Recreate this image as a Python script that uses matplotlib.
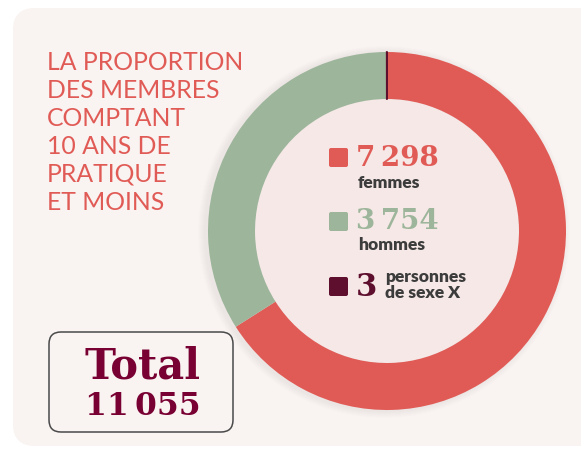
import matplotlib
matplotlib.use("Agg")
import matplotlib.pyplot as plt
from matplotlib.patches import FancyBboxPatch, Circle

# membres comptant 10 ans de pratique et moins
labels = ["femmes", "hommes", "personnes\nde sexe X"]
counts = [7298, 3754, 3]
colors = ["#e15b56", "#9db59a", "#5e0f2e"]
total = sum(counts)

W, H = 581, 452
fig = plt.figure(figsize=(W / 100, H / 100), dpi=100)
ax = fig.add_axes([0, 0, 1, 1])
fig.patch.set_facecolor("white")


def Y(y):
    # y measured from the top edge
    return H - y


def fmt(n):
    return f"{n:,}".replace(",", "\u2009")


# card background
card = FancyBboxPatch((13, Y(447)), 620, 438,
                      boxstyle="round,pad=0,rounding_size=22",
                      facecolor="#f9f3f1", edgecolor="none", zorder=0)
ax.add_patch(card)

# donut with a soft shadow
cx, cy, r, w = 387, Y(232), 179, 47
for i in range(7):
    ax.add_patch(Circle((cx - 3, cy - 1), r + 1 + i, facecolor="#8a7a78",
                        alpha=0.012, edgecolor="none", zorder=1))
ax.add_patch(Circle((cx, cy), r - w, facecolor="#f5e8e6", edgecolor="none", zorder=2))
wedges, _ = ax.pie(counts, colors=colors, startangle=90, counterclock=False,
                   center=(cx, cy), radius=r,
                   wedgeprops=dict(width=w, linewidth=0))
for wd in wedges:
    wd.set_zorder(3)
wedges[2].set_linewidth(1.2)
wedges[2].set_edgecolor(colors[2])

ax.set_xlim(0, W)
ax.set_ylim(0, H)
ax.axis("off")

# title on the left
title = "LA PROPORTION\nDES MEMBRES\nCOMPTANT\n10 ANS DE\nPRATIQUE\nET MOINS"
ax.text(47, Y(51), title, color="#e15b56", fontsize=17.8, family="Lato",
        fontweight="normal", va="top", ha="left", linespacing=1.26, zorder=5)

# legend inside the donut
serif = ["DejaVu Serif"]
label_color = "#3c3c3c"
rows = [(158, 183), (222, 245)]
for (yc, yl), n, lab, col in zip(rows, counts[:2], labels[:2], colors[:2]):
    ax.add_patch(FancyBboxPatch((329, Y(yc + 10)), 19, 19,
                                boxstyle="round,pad=0,rounding_size=2",
                                facecolor=col, edgecolor="none", zorder=5))
    ax.text(356, Y(yc), fmt(n), color=col, fontsize=20, family=serif,
            fontweight="bold", va="center", ha="left", zorder=5)
    ax.text(358, Y(yl), lab, color=label_color, fontsize=12.5,
            family="Lato", fontweight="heavy", va="center", ha="left", zorder=5)

ax.add_patch(FancyBboxPatch((329, Y(297)), 19, 19,
                            boxstyle="round,pad=0,rounding_size=2",
                            facecolor=colors[2], edgecolor="none", zorder=5))
ax.text(356, Y(287), fmt(counts[2]), color=colors[2], fontsize=22, family=serif,
        fontweight="bold", va="center", ha="left", zorder=5)
ax.text(385, Y(285), labels[2], color=label_color, fontsize=12.5,
        family="Lato", fontweight="heavy", va="center", ha="left",
        linespacing=0.95, zorder=5)

# total box
ax.add_patch(FancyBboxPatch((49, Y(433)), 184, 100,
                            boxstyle="round,pad=0,rounding_size=12",
                            facecolor="none", edgecolor="#4a4a4a",
                            linewidth=1.1, zorder=5))
ax.text(142, Y(367), "Total", color="#780032", fontsize=30, family=serif,
        fontweight="bold", va="center", ha="center", zorder=5)
ax.text(143, Y(407), fmt(total), color="#780032",
        fontsize=22.5, family=serif, fontweight="bold", va="center",
        ha="center", zorder=5)

fig.savefig("out.png", dpi=100)
